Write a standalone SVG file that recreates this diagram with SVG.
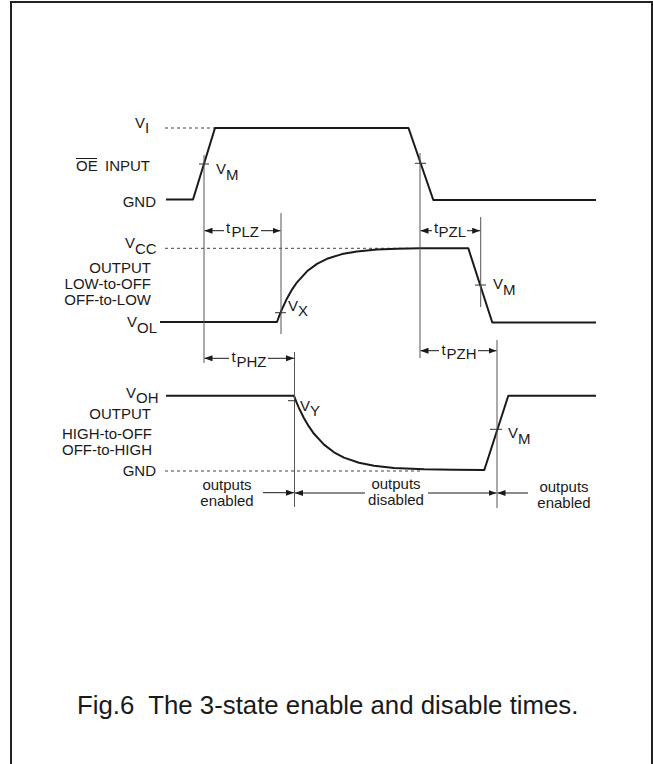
<svg xmlns="http://www.w3.org/2000/svg" width="653" height="764" viewBox="0 0 653 764">
<defs>
<style>
text{font-family:"Liberation Sans",Arial,sans-serif;font-size:15px;fill:#1a1a1a}
.cap{font-size:25.8px}
.wave{fill:none;stroke:#1a1a1a;stroke-width:2;stroke-linejoin:round}
.ref{fill:none;stroke:#555;stroke-width:1}
.tick{fill:none;stroke:#333;stroke-width:1}
.dot{fill:none;stroke:#444;stroke-width:1;stroke-dasharray:3 3}
.dim{fill:none;stroke:#1a1a1a;stroke-width:1;marker-end:url(#ah)}
.mid{text-anchor:middle}
.end{text-anchor:end}
</style>
<marker id="ah" viewBox="0 0 8 6" refX="8" refY="3" markerWidth="8" markerHeight="6" markerUnits="userSpaceOnUse" orient="auto">
<path d="M0,0 L8,3 L0,6 z" fill="#1a1a1a"/>
</marker>
</defs>
<rect width="653" height="764" fill="#fff"/>
<path d="M11,764 V2 H652 V764" fill="none" stroke="#222" stroke-width="2"/>

<g id="input-labels">
<text x="135" y="128">V<tspan dy="5">I</tspan></text>
<text x="76" y="171">OE</text>
<line x1="76" y1="158.5" x2="97" y2="158.5" stroke="#1a1a1a" stroke-width="1"/>
<text x="105" y="171">INPUT</text>
<text class="end" x="156" y="206.5">GND</text>
</g>

<g id="output1-labels">
<text x="125" y="248">V<tspan dy="6">CC</tspan></text>
<text class="end" x="151" y="273">OUTPUT</text>
<text class="end" x="151" y="289">LOW-to-OFF</text>
<text class="end" x="151" y="304.5">OFF-to-LOW</text>
<text x="127" y="327">V<tspan dy="6">OL</tspan></text>
</g>

<g id="output2-labels">
<text x="126" y="398">V<tspan dy="5">OH</tspan></text>
<text class="end" x="151" y="419">OUTPUT</text>
<text class="end" x="152" y="439">HIGH-to-OFF</text>
<text class="end" x="152" y="454.5">OFF-to-HIGH</text>
<text class="end" x="156" y="476">GND</text>
</g>

<g id="reference-levels">
<line class="dot" x1="165" y1="128" x2="215" y2="128"/>
<line class="dot" x1="165" y1="248.3" x2="410" y2="248.3"/>
<line class="dot" x1="165" y1="471" x2="420" y2="471"/>
</g>

<g id="waveform-input">
<path class="wave" d="M166,199.5 H193 L215,128 H408.5 L433.3,200 H596"/>
</g>

<g id="waveform-output1">
<path class="wave" d="M160,322 H277 L279,316.5 L282,309.1 L287,298.4 L292,289.6 L297,282.3 L307,271.3 L317,263.9 L327,258.8 L342,254.1 L357,251.4 L377,249.6 L397,248.7 L420,248.3 H468.3 L492.3,322.5 H596"/>
</g>

<g id="waveform-output2">
<path class="wave" d="M166,395.7 H294 L296,401.1 L299,408.1 L304,418.2 L309,426.7 L314,433.8 L324,444.6 L334,452.3 L344,457.6 L359,462.7 L374,465.8 L394,467.9 L424,469.3 L454,469.8 L484.3,470 L508.3,395.7 H596"/>
</g>

<g id="timing-references">
<line class="ref" x1="204" y1="155" x2="204" y2="363"/>
<line class="ref" x1="281" y1="213" x2="281" y2="334"/>
<line class="ref" x1="420" y1="153" x2="420" y2="358"/>
<line class="ref" x1="480.7" y1="217" x2="480.7" y2="307"/>
<line class="ref" x1="294.5" y1="352" x2="294.5" y2="507"/>
<line class="ref" x1="497" y1="340" x2="497" y2="508"/>
</g>

<g id="ticks">
<line class="tick" x1="199" y1="164" x2="209" y2="164"/>
<line class="tick" x1="415" y1="163.3" x2="426" y2="163.3"/>
<line class="tick" x1="275" y1="312.7" x2="286" y2="312.7"/>
<line class="tick" x1="475" y1="285" x2="486" y2="285"/>
<line class="tick" x1="288" y1="400.7" x2="297" y2="400.7"/>
<line class="tick" x1="490" y1="429.3" x2="502" y2="429.3"/>
</g>

<g id="level-labels">
<text x="216" y="174">V<tspan dy="6">M</tspan></text>
<text x="493" y="289">V<tspan dy="6">M</tspan></text>
<text x="508" y="438">V<tspan dy="6">M</tspan></text>
<text x="288" y="311">V<tspan dy="5">X</tspan></text>
<text x="300" y="411">V<tspan dy="5">Y</tspan></text>
</g>

<g id="connectors">
<line class="dim" x1="224" y1="230.7" x2="204.5" y2="230.7"/>
<line class="dim" x1="261" y1="230.7" x2="280.5" y2="230.7"/>
<line class="dim" x1="432" y1="230.7" x2="420.5" y2="230.7"/>
<line class="dim" x1="467" y1="230.7" x2="480.2" y2="230.7"/>
<line class="dim" x1="229" y1="358.3" x2="204.5" y2="358.3"/>
<line class="dim" x1="268" y1="358.3" x2="294" y2="358.3"/>
<line class="dim" x1="439" y1="350.7" x2="420.5" y2="350.7"/>
<line class="dim" x1="478" y1="350.7" x2="496.5" y2="350.7"/>
<line class="dim" x1="263" y1="492.7" x2="294" y2="492.7"/>
<line class="dim" x1="365" y1="493" x2="295" y2="493"/>
<line class="dim" x1="428" y1="493" x2="496.5" y2="493"/>
<line class="dim" x1="528" y1="493" x2="497.5" y2="493"/>
</g>

<g id="timing-labels">
<text x="226" y="233">t</text><text x="231.5" y="237.3">PLZ</text>
<text x="434" y="233">t</text><text x="438.5" y="237.3">PZL</text>
<text x="231.5" y="362">t</text><text x="236.5" y="366.5">PHZ</text>
<text x="441.5" y="355">t</text><text x="446.5" y="359">PZH</text>
</g>

<g id="state-labels">
<text class="mid" x="227" y="490">outputs</text>
<text class="mid" x="227" y="506">enabled</text>
<text class="mid" x="396" y="489">outputs</text>
<text class="mid" x="396" y="505">disabled</text>
<text class="mid" x="564" y="492">outputs</text>
<text class="mid" x="564" y="508">enabled</text>
</g>

<text class="cap" x="77" y="714" xml:space="preserve">Fig.6  The 3-state enable and disable times.</text>
</svg>
